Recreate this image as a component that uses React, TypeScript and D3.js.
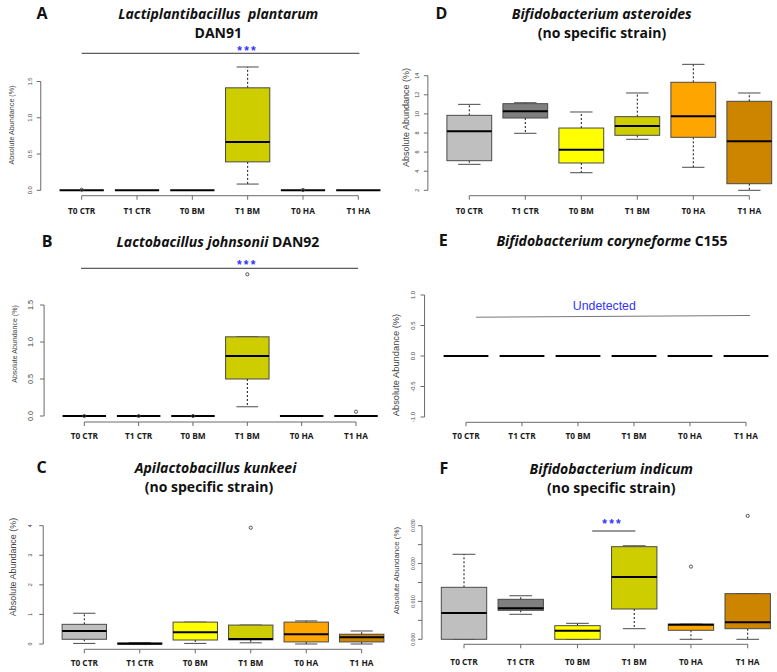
import React from "react";
import * as d3 from "d3";

// ---------- DATA ----------
const groups = ["T0 CTR", "T1 CTR", "T0 BM", "T1 BM", "T0 HA", "T1 HA"];
const fills = ["#bfbfbf", "#7f7f7f", "#ffff00", "#cdcd00", "#ffa500", "#cd8500"];

// five-number summaries: [lower whisker, Q1, median, Q3, upper whisker]
const statsA = [[0, 0, 0, 0, 0], [0, 0, 0, 0, 0], [0, 0, 0, 0, 0], [0.086, 0.392, 0.667, 1.413, 1.70], [0, 0, 0, 0, 0], [0, 0, 0, 0, 0]];
const outliersA = [[0.008], [], [], [], [0.004], []];

const statsB = [[0, 0, 0, 0, 0], [0, 0, 0, 0, 0], [0, 0, 0, 0, 0], [0.125, 0.50, 0.81, 1.07, 1.07], [0, 0, 0, 0, 0], [0, 0, 0, 0, 0]];
const outliersB = [[0], [0], [0], [1.915], [], [0.058]];

const statsC = [[0.02, 0.16, 0.44, 0.665, 1.04], [0, 0, 0.01, 0.035, 0.05], [0.02, 0.135, 0.395, 0.74, 0.74], [0.04, 0.14, 0.17, 0.64, 0.64], [0.0, 0.07, 0.33, 0.74, 0.78], [0.0, 0.07, 0.225, 0.33, 0.44]];
const outliersC = [[], [], [], [3.93], [], []];

const statsD = [[4.72, 5.1, 8.18, 9.85, 11.0], [7.97, 9.57, 10.27, 11.07, 11.17], [3.84, 4.86, 6.25, 8.52, 10.2], [7.34, 7.76, 8.73, 9.71, 12.19], [4.41, 7.55, 9.75, 13.31, 15.19], [2.0, 2.69, 7.13, 11.32, 12.19]];
const outliersD = [[], [], [], [], [], []];

const statsE = [[0, 0, 0, 0, 0], [0, 0, 0, 0, 0], [0, 0, 0, 0, 0], [0, 0, 0, 0, 0], [0, 0, 0, 0, 0], [0, 0, 0, 0, 0]];
const outliersE = [[], [], [], [], [], []];

const statsF = [[0, 0, 0.00695, 0.01373, 0.02245], [0.0066, 0.00766, 0.0082, 0.01056, 0.0115], [0, 0, 0.00227, 0.0036, 0.00422], [0.0028, 0.008, 0.01646, 0.02446, 0.0247], [0, 0.00238, 0.00386, 0.0040, 0.0040], [0, 0.0028, 0.0045, 0.01205, 0.01205]];
const outliersF = [[], [], [], [], [0.0192], [0.0326]];

const ticksA = [0, 0.5, 1, 1.5];
const ticksC = [0, 1, 2, 3, 4];
const ticksD = [2, 4, 6, 8, 10, 12, 14];
const ticksE = [-1, -0.5, 0, 0.5, 1];
const ticksF = [0, 0.005, 0.01, 0.015, 0.02, 0.025, 0.03];
const labelsF = ["0.000", "", "0.010", "", "0.020", "", "0.030"];

// ---------- LAYOUT ----------
type Seg = { t: string; it?: boolean };
type Panel = {
  letter: string; lx: number; ly: number;
  titles: { segs: Seg[]; x: number; y: number }[];
  stats: number[][]; outliers: number[][];
  yDom: [number, number]; yRng: [number, number];
  ticks: number[]; tickLabels: string[]; tickFs: number; tickX: number;
  x1: number; x6: number; axisY: number; labBase: number;
  ytX: number; ytY: number; ytFs: number;
  sig?: { x0: number; x1: number; y: number; sx: number; sy: number };
  undetected?: boolean;
};

const fmt1 = (v: number) => v.toFixed(1);
const fmt0 = (v: number) => v.toFixed(0);

const panels: Panel[] = [
  {
    letter: "A", lx: 42, ly: 19.3,
    titles: [{ segs: [{ t: "Lactiplantibacillus  plantarum", it: true }], x: 218.3, y: 18.5 }, { segs: [{ t: "DAN91" }], x: 218.3, y: 38.3 }],
    stats: statsA, outliers: outliersA, yDom: [0, 1.5], yRng: [190.3, 81.5],
    ticks: ticksA, tickLabels: ticksA.map(fmt1), tickFs: 5.8, tickX: 30,
    x1: 81.7, x6: 358.3, axisY: 195.7, labBase: 214, ytX: 11.7, ytY: 125, ytFs: 7.2,
    sig: { x0: 1, x1: 6.02, y: 1.889, sx: 4, sy: 1.96 },
  },
  {
    letter: "B", lx: 47, ly: 246.7,
    titles: [{ segs: [{ t: "Lactobacillus johnsonii", it: true }, { t: " DAN92" }], x: 218, y: 246.5 }],
    stats: statsB, outliers: outliersB, yDom: [0, 1.5], yRng: [416, 305],
    ticks: ticksA, tickLabels: ticksA.map(fmt1), tickFs: 7.3, tickX: 30,
    x1: 84.3, x6: 356, axisY: 422, labBase: 439.3, ytX: 14.3, ytY: 344, ytFs: 7.05,
    sig: { x0: 0.94, x1: 6.04, y: 1.996, sx: 4, sy: 2.08 },
  },
  {
    letter: "C", lx: 41.5, ly: 472.7,
    titles: [{ segs: [{ t: "Apilactobacillus kunkeei", it: true }], x: 215.5, y: 472.7 }, { segs: [{ t: "(no specific strain)" }], x: 209, y: 491.7 }],
    stats: statsC, outliers: outliersC, yDom: [0, 4], yRng: [644, 525.7],
    ticks: ticksC, tickLabels: ticksC.map(fmt0), tickFs: 5.4, tickX: 30,
    x1: 84.3, x6: 361.7, axisY: 649.3, labBase: 665.7, ytX: 13.3, ytY: 567, ytFs: 8.95,
  },
  {
    letter: "D", lx: 441.5, ly: 19,
    titles: [{ segs: [{ t: "Bifidobacterium asteroides", it: true }], x: 601.7, y: 19 }, { segs: [{ t: "(no specific strain)" }], x: 602, y: 38 }],
    stats: statsD, outliers: outliersD, yDom: [2, 14], yRng: [190.3, 75.7],
    ticks: ticksD, tickLabels: ticksD.map(fmt0), tickFs: 5.4, tickX: 417.3,
    x1: 469.3, x6: 749.3, axisY: 195.7, labBase: 214, ytX: 405.7, ytY: 117.5, ytFs: 9.0,
  },
  {
    letter: "E", lx: 443.3, ly: 245.7,
    titles: [{ segs: [{ t: "Bifidobacterium coryneforme", it: true }, { t: " C155" }], x: 612, y: 245.7 }],
    stats: statsE, outliers: outliersE, yDom: [-1, 1], yRng: [417, 295],
    ticks: ticksE, tickLabels: ticksE.map(fmt1), tickFs: 6, tickX: 413.3,
    x1: 466, x6: 746, axisY: 422.3, labBase: 439.3, ytX: 396, ytY: 365, ytFs: 9.3,
    undetected: true,
  },
  {
    letter: "F", lx: 444, ly: 474.3,
    titles: [{ segs: [{ t: "Bifidobacterium indicum", it: true }], x: 611.3, y: 474.3 }, { segs: [{ t: "(no specific strain)" }], x: 611.3, y: 493.3 }],
    stats: statsF, outliers: outliersF, yDom: [0, 0.03], yRng: [639.3, 525.7],
    ticks: ticksF, tickLabels: labelsF, tickFs: 5.1, tickX: 412.7,
    x1: 464, x6: 747.7, axisY: 644.3, labBase: 665, ytX: 396.7, ytY: 570.5, ytFs: 7.95,
    sig: { x0: 3.26, x1: 4.02, y: 0.0286, sx: 3.62, sy: 0.031 },
  },
];

const TITLE_FONT = "'Open Sans', Lato, sans-serif";
const AXIS_FONT = "'Liberation Sans', Arial, sans-serif";
const BORDER = "#4a4a4a";
const AXIS_COL = "#6a6a6a";

function PanelView({ p }: { p: Panel }) {
  const x = d3.scaleLinear().domain([1, 6]).range([p.x1, p.x6]);
  const y = d3.scaleLinear().domain(p.yDom).range(p.yRng);
  const left = x(0.26);
  const hw = 0.4, cw = 0.2;
  return (
    <g>
      <text x={p.lx} y={p.ly} textAnchor="middle" fontFamily={TITLE_FONT} fontWeight={700} fontSize={16} fill="#111">{p.letter}</text>
      {p.titles.map((t, i) => (
        <text key={i} x={t.x} y={t.y} textAnchor="middle" fontFamily={TITLE_FONT} fontWeight={700} fontSize={14} fill="#111" style={{ whiteSpace: "pre" }}>
          {t.segs.map((s, j) => (
            <tspan key={j} fontStyle={s.it ? "italic" : "normal"}>{s.t}</tspan>
          ))}
        </text>
      ))}
      {/* y axis */}
      <line x1={left} x2={left} y1={y(p.ticks[0])} y2={y(p.ticks[p.ticks.length - 1])} stroke={AXIS_COL} strokeWidth={1} />
      {p.ticks.map((t, i) => (
        <g key={i}>
          <line x1={left - 4} x2={left} y1={y(t)} y2={y(t)} stroke={AXIS_COL} strokeWidth={1} />
          {p.tickLabels[i] && (
            <text transform={`translate(${p.tickX},${y(t)}) rotate(-90)`} textAnchor="middle" dominantBaseline="central" fontFamily={AXIS_FONT} fontSize={p.tickFs} fill="#444">{p.tickLabels[i]}</text>
          )}
        </g>
      ))}
      <text transform={`translate(${p.ytX},${p.ytY}) rotate(-90)`} textAnchor="middle" dominantBaseline="central" fontFamily={AXIS_FONT} fontSize={p.ytFs} fill="#444">Absolute Abundance (%)</text>
      {/* x axis */}
      <line x1={x(1)} x2={x(6)} y1={p.axisY} y2={p.axisY} stroke={AXIS_COL} strokeWidth={1} />
      {groups.map((g, i) => (
        <g key={g}>
          <line x1={x(i + 1)} x2={x(i + 1)} y1={p.axisY} y2={p.axisY + 4} stroke={AXIS_COL} strokeWidth={1} />
          <text x={x(i + 1)} y={p.labBase} textAnchor="middle" fontFamily={TITLE_FONT} fontWeight={700} fontSize={8.3} fill="#1a1a1a">{g}</text>
        </g>
      ))}
      {/* boxes */}
      {p.stats.map((s, i) => {
        const c = i + 1;
        const [lo, q1, med, q3, hi] = s;
        const flat = q3 === q1;
        return (
          <g key={i}>
            {!flat && (
              <>
                <line x1={x(c)} x2={x(c)} y1={y(q3)} y2={y(hi)} stroke="#111" strokeWidth={1} strokeDasharray="2,2" />
                <line x1={x(c)} x2={x(c)} y1={y(q1)} y2={y(lo)} stroke="#111" strokeWidth={1} strokeDasharray="2,2" />
                <line x1={x(c - cw)} x2={x(c + cw)} y1={y(hi)} y2={y(hi)} stroke={BORDER} strokeWidth={1} />
                <line x1={x(c - cw)} x2={x(c + cw)} y1={y(lo)} y2={y(lo)} stroke={BORDER} strokeWidth={1} />
                <rect x={x(c - hw)} width={x(c + hw) - x(c - hw)} y={y(q3)} height={Math.max(0.5, y(q1) - y(q3))} fill={fills[i]} stroke={BORDER} strokeWidth={1} />
              </>
            )}
            <line x1={x(c - hw)} x2={x(c + hw)} y1={y(med)} y2={y(med)} stroke="#000" strokeWidth={2} />
            {p.outliers[i].map((o, k) => (
              <circle key={k} cx={x(c)} cy={y(o)} r={1.6} fill="none" stroke="#444" strokeWidth={0.9} />
            ))}
          </g>
        );
      })}
      {p.sig && (
        <g>
          <line x1={x(p.sig.x0)} x2={x(p.sig.x1)} y1={y(p.sig.y)} y2={y(p.sig.y)} stroke="#333" strokeWidth={1} />
          <text x={x(p.sig.sx)} y={y(p.sig.sy) + 6.5} textAnchor="middle" fontFamily={AXIS_FONT} fontWeight={700} fontSize={12} letterSpacing={2.2} fill="#3333ff">***</text>
        </g>
      )}
      {p.undetected && (
        <g>
          <line x1={x(1.18)} x2={x(6.07)} y1={y(0.636)} y2={y(0.664)} stroke="#777" strokeWidth={1} />
          <text x={x(3.47)} y={y(0.75)} textAnchor="middle" fontFamily={AXIS_FONT} fontSize={12.3} fill="#3333ff">Undetected</text>
        </g>
      )}
    </g>
  );
}

export default function App() {
  return (
    <svg width={777} height={672} viewBox="0 0 777 672" style={{ position: "absolute", left: 0, top: 0, background: "#fff" }}>
      <rect width={777} height={672} fill="#fff" />
      {panels.map((p) => (
        <PanelView key={p.letter} p={p} />
      ))}
    </svg>
  );
}
